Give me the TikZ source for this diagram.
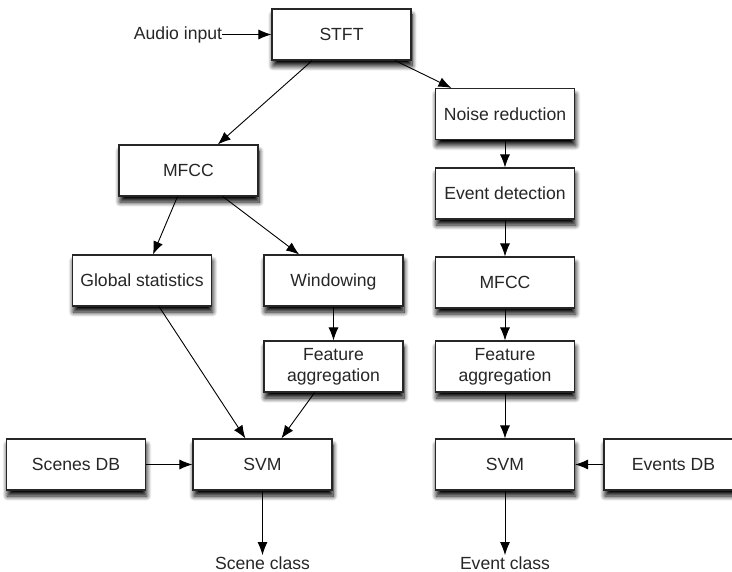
\documentclass[tikz,border=0pt]{standalone}
\usepackage{fontspec}
\setmainfont{Liberation Sans}
\usetikzlibrary{arrows.meta,shadows.blur}

\begin{document}
\begin{tikzpicture}[x=1pt,y=-1pt,>={Latex[length=13pt,width=10pt]},line width=0.9pt,
  every node/.style={font=\fontsize{17.6}{20.7}\selectfont,text=black!85}]

  \tikzstyle{block}=[draw=black!85,line width=1.1pt,fill=white,minimum width=139pt,minimum height=51pt,align=center,
    text height=12.6pt,text depth=0pt,
    blur shadow={shadow xshift=1pt,shadow yshift=-6pt,shadow blur radius=5pt,shadow blur steps=10,shadow opacity=100}]
  \tikzstyle{twoline}=[text height=,text depth=]
  \tikzstyle{plain}=[inner sep=1pt]

  \useasboundingbox (0,0) rectangle (732,572);

  \node (stft) at (341.5,34.5) [block] {STFT};
  \node (audio) at (178,34.5) [plain,inner sep=0pt] {Audio input};

  % scene branch
  \node (mfccA) at (188.5,170.5) [block] {MFCC};
  \node (globstat) at (142,280.5) [block] {Global statistics};
  \node (window) at (333.5,280.5) [block] {Windowing};
  \node (aggA) at (333.5,366.5) [block,twoline] {Feature\\aggregation};
  \node (scenesdb) at (76,464.5) [block] {Scenes DB};
  \node (svmA) at (262.5,464.5) [block] {SVM};
  \node (sceneclass) at (262.5,563) [plain] {Scene class};

  % event branch
  \node (noise) at (505,114) [block] {Noise reduction};
  \node (detect) at (505,193.5) [block] {Event detection};
  \node (mfccB) at (505,282.5) [block] {MFCC};
  \node (aggB) at (505,366.5) [block,twoline] {Feature\\aggregation};
  \node (svmB) at (505,464.5) [block] {SVM};
  \node (eventsdb) at (673.5,464.5) [block] {Events DB};
  \node (eventclass) at (505,563) [plain] {Event class};

  \path[->] (audio) edge (stft)
    (stft) edge (mfccA)
    (stft) edge (noise)
    (mfccA) edge (globstat)
    (mfccA) edge (window)
    (window) edge (aggA)
    (globstat) edge (svmA)
    (aggA) edge (svmA)
    (scenesdb) edge (svmA)
    (svmA) edge (sceneclass);

  \path[->] (noise) edge (detect)
    (detect) edge (mfccB)
    (mfccB) edge (aggB)
    (aggB) edge (svmB)
    (eventsdb) edge (svmB)
    (svmB) edge (eventclass);
\end{tikzpicture}
\end{document}
